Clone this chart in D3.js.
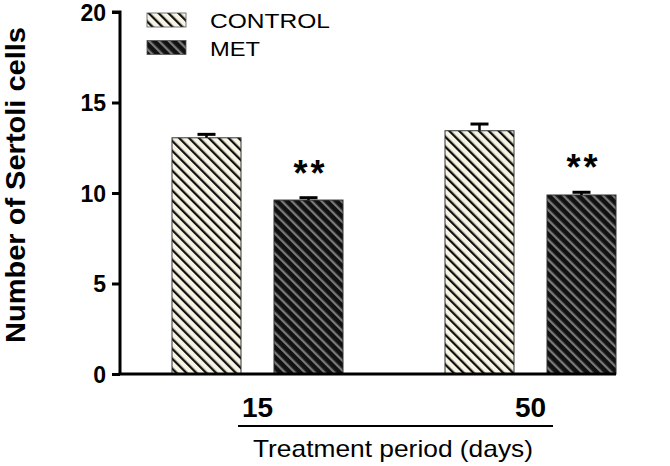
<!DOCTYPE html>
<html><head><meta charset="utf-8">
<script src="https://cdn.jsdelivr.net/npm/d3@7/dist/d3.min.js"></script>
<style>
html,body{margin:0;padding:0;background:#fff;}
text{font-family:"Liberation Sans",Arial,Helvetica,sans-serif;fill:#000;}
</style></head>
<body>
<svg id="chart" width="670" height="466"></svg>
<script>
const groups = ["15", "50"];
const series = ["CONTROL", "MET"];
const controlValues = [13.05, 13.44];
const metValues = [9.61, 9.89];
const controlErrors = [0.19, 0.37];
const metErrors = [0.13, 0.15];
const significance = ["**", "**"];
const yTicks = [0, 5, 10, 15, 20];

const svg = d3.select("#chart");
const defs = svg.append("defs");

function hatch(id, bg, fg) {
  const p = defs.append("pattern").attr("id", id)
    .attr("patternUnits", "userSpaceOnUse").attr("width", 7).attr("height", 7)
    .attr("patternTransform", "rotate(-45)");
  p.append("rect").attr("width", 7).attr("height", 7).attr("fill", bg);
  p.append("rect").attr("x", 0).attr("width", 2.3).attr("height", 7).attr("fill", fg);
}
hatch("hControl", "#f8f4e4", "#111");
hatch("hMet", "#111", "#7a7a7a");
const fills = {CONTROL: "url(#hControl)", MET: "url(#hMet)"};

const y = d3.scaleLinear().domain([0, 20]).range([374, 12]);
const x0 = d3.scaleBand().domain(groups).range([172, 616]).paddingInner(102/273).paddingOuter(0);
const x1 = d3.scaleBand().domain(series).range([0, x0.bandwidth()]).paddingInner(33/102);

const data = [];
groups.forEach((g, i) => {
  data.push({g, s: "CONTROL", v: controlValues[i], e: controlErrors[i]});
  data.push({g, s: "MET", v: metValues[i], e: metErrors[i], sig: significance[i]});
});

// bars
svg.selectAll("rect.bar").data(data).enter().append("rect")
  .attr("class", "bar")
  .attr("x", d => x0(d.g) + x1(d.s))
  .attr("y", d => y(d.v))
  .attr("width", x1.bandwidth())
  .attr("height", d => y(0) - y(d.v))
  .attr("fill", d => fills[d.s])
  .attr("stroke", "#333").attr("stroke-width", 1);

// error bars
const eb = svg.selectAll("g.err").data(data).enter().append("g");
eb.append("line")
  .attr("x1", d => x0(d.g) + x1(d.s) + x1.bandwidth()/2)
  .attr("x2", d => x0(d.g) + x1(d.s) + x1.bandwidth()/2)
  .attr("y1", d => y(d.v)).attr("y2", d => y(d.v + d.e))
  .attr("stroke", "#000").attr("stroke-width", 2.5);
eb.append("line")
  .attr("x1", d => x0(d.g) + x1(d.s) + x1.bandwidth()/2 - 9)
  .attr("x2", d => x0(d.g) + x1(d.s) + x1.bandwidth()/2 + 9)
  .attr("y1", d => y(d.v + d.e)).attr("y2", d => y(d.v + d.e))
  .attr("stroke", "#000").attr("stroke-width", 3);

// significance
svg.selectAll("text.sig").data(data.filter(d => d.sig)).enter().append("text")
  .attr("x", d => x0(d.g) + x1(d.s) + x1.bandwidth()/2)
  .attr("y", d => y(d.v + d.e) - 12)
  .attr("text-anchor", "middle")
  .attr("dx", 2)
  .style("font-size", "36px").style("font-weight", "bold").style("letter-spacing", "3px")
  .text(d => d.sig);

// y axis
const yAxis = d3.axisLeft(y).tickValues(yTicks).tickSize(8).tickPadding(6).tickFormat(d3.format("d"));
const ya = svg.append("g").attr("transform", "translate(120,0)").call(yAxis);
ya.select(".domain").attr("stroke", "#000").attr("stroke-width", 3).attr("d", `M-8,${y(20)}H0V${y(0)}`);
ya.selectAll(".tick line").attr("stroke", "#000").attr("stroke-width", 3);
ya.selectAll(".tick text").style("font-size", "23px").style("font-weight", "bold")
  .attr("fill", "#000").attr("dy", "0.36em");

// x axis line
svg.append("line").attr("x1", 118.5).attr("x2", 616).attr("y1", y(0)).attr("y2", y(0))
  .attr("stroke", "#000").attr("stroke-width", 3);

// group labels
svg.selectAll("text.grp").data(groups).enter().append("text")
  .attr("x", d => x0(d) + x0.bandwidth()/2)
  .attr("y", 417)
  .attr("text-anchor", "middle")
  .style("font-size", "28px").style("font-weight", "bold")
  .text(d => d);

// underline
svg.append("line").attr("x1", 238).attr("x2", 553).attr("y1", 426).attr("y2", 426)
  .attr("stroke", "#000").attr("stroke-width", 2);

svg.append("text").attr("x", 393).attr("y", 457).attr("text-anchor", "middle")
  .style("font-size", "24px").attr("textLength", 280).attr("lengthAdjust", "spacingAndGlyphs")
  .text("Treatment period (days)");

// y title
svg.append("text").attr("transform", "translate(25,185) rotate(-90)")
  .attr("text-anchor", "middle").style("font-size", "27px").style("font-weight", "bold")
  .attr("textLength", 316).attr("lengthAdjust", "spacingAndGlyphs")
  .text("Number of Sertoli cells");

// legend
const lg = svg.selectAll("g.lg").data(series).enter().append("g")
  .attr("transform", (d, i) => `translate(147,${13 + i*27.5})`);
lg.append("rect").attr("width", 39).attr("height", 14)
  .attr("fill", d => fills[d]).attr("stroke", "#555").attr("stroke-width", 0.8);
lg.append("text").attr("x", 63).attr("y", 15)
  .style("font-size", "21px")
  .attr("textLength", d => d === "CONTROL" ? 120 : 50).attr("lengthAdjust", "spacingAndGlyphs")
  .text(d => d);
</script>
</body></html>
